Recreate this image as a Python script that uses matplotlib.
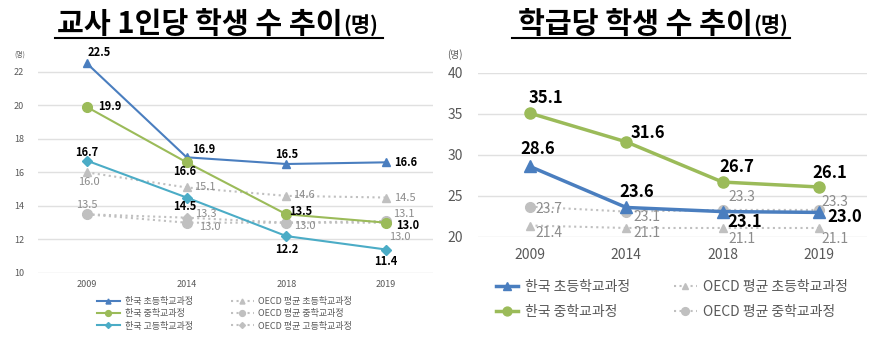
import matplotlib.pyplot as plt
from matplotlib.lines import Line2D

plt.rcParams['font.family'] = ['Noto Sans CJK KR', 'DejaVu Sans']

years = ['2009', '2014', '2018', '2019']

# 교사 1인당 학생 수
kr_elem_t = [22.5, 16.9, 16.5, 16.6]
kr_mid_t = [19.9, 16.6, 13.5, 13.0]
kr_high_t = [16.7, 14.5, 12.2, 11.4]
oecd_elem_t = [16.0, 15.1, 14.6, 14.5]
oecd_mid_t = [13.5, 13.0, 13.0, 13.1]
oecd_high_t = [13.5, 13.3, 13.0, 13.0]

# 학급당 학생 수
kr_elem_c = [28.6, 23.6, 23.1, 23.0]
kr_mid_c = [35.1, 31.6, 26.7, 26.1]
oecd_elem_c = [21.4, 21.1, 21.1, 21.1]
oecd_mid_c = [23.7, 23.1, 23.3, 23.3]

BLUE = '#4a7ebf'
GREEN = '#9bbb59'
CYAN = '#4bacc6'
GRAY = '#c0c0c0'
LGRAY = '#8c8c8c'

W, H = 881, 339
fig = plt.figure(figsize=(W / 100, H / 100), dpi=100)


def box(l, r, t, b):
    return [l / W, 1 - b / H, (r - l) / W, (b - t) / H]


def lab(ax, x, y, txt, dx, dy, ha='center', va='center', bold=True, color='black', size=8):
    ax.annotate(txt, (x, y), xytext=(dx * 0.72, dy * 0.72), textcoords='offset points',
                ha=ha, va=va, fontsize=size, fontweight='bold' if bold else 'normal',
                color=color, annotation_clip=False)


def style(ax, tsize, ypad, xpad):
    for s in ax.spines.values():
        s.set_visible(False)
    ax.tick_params(length=0, labelsize=tsize, colors='#595959', pad=0)
    ax.tick_params(axis='y', pad=ypad)
    ax.tick_params(axis='x', pad=xpad)
    ax.grid(axis='y', color='#e0e0e0', lw=1)
    ax.set_axisbelow(True)


x = range(len(years))

# ---------- left chart ----------
ax1 = fig.add_axes(box(38, 433, 55, 273))
ax1.plot(x, oecd_elem_t, color=GRAY, marker='^', ms=6, lw=1.5, ls=':', label='OECD 평균 초등학교과정')
ax1.plot(x, oecd_mid_t, color=GRAY, marker='o', ms=7, lw=1.5, ls=':', label='OECD 평균 중학교과정')
ax1.plot(x, oecd_high_t, color=GRAY, marker='D', ms=5, lw=1.5, ls=':', label='OECD 평균 고등학교과정')
ax1.plot(x, kr_elem_t, color=BLUE, marker='^', ms=6, lw=1.5, label='한국 초등학교과정')
ax1.plot(x, kr_mid_t, color=GREEN, marker='o', ms=7, lw=1.5, label='한국 중학교과정')
ax1.plot(x, kr_high_t, color=CYAN, marker='D', ms=5, lw=1.5, label='한국 고등학교과정')
ax1.set_xlim(-0.49, 3.47)
ax1.set_ylim(10, 23)
ax1.set_yticks(range(10, 23, 2))
ax1.set_xticks(list(x))
ax1.set_xticklabels(years)
style(ax1, 6.5, 10, 5)

v = kr_elem_t
lab(ax1, 0, v[0], f'{v[0]:.1f}', 12, 11)
lab(ax1, 1, v[1], f'{v[1]:.1f}', 17, 8)
lab(ax1, 2, v[2], f'{v[2]:.1f}', 0, 10)
lab(ax1, 3, v[3], f'{v[3]:.1f}', 8, 0, ha='left')
v = kr_mid_t
lab(ax1, 0, v[0], f'{v[0]:.1f}', 11, 0, ha='left')
lab(ax1, 1, v[1], f'{v[1]:.1f}', -2, -9)
lab(ax1, 2, v[2], f'{v[2]:.1f}', 3, 3, ha='left')
lab(ax1, 3, v[3], f'{v[3]:.1f}', 10, -3, ha='left')
v = kr_high_t
lab(ax1, 0, v[0], f'{v[0]:.1f}', 0, 8)
lab(ax1, 1, v[1], f'{v[1]:.1f}', -2, -9)
lab(ax1, 2, v[2], f'{v[2]:.1f}', 0, -13)
lab(ax1, 3, v[3], f'{v[3]:.1f}', 0, -12)
v = oecd_elem_t
lab(ax1, 0, v[0], f'{v[0]:.1f}', 2, -10, bold=False, color=LGRAY)
lab(ax1, 1, v[1], f'{v[1]:.1f}', 7, 0, ha='left', bold=False, color=LGRAY)
lab(ax1, 2, v[2], f'{v[2]:.1f}', 7, 1, ha='left', bold=False, color=LGRAY)
lab(ax1, 3, v[3], f'{v[3]:.1f}', 8, 0, ha='left', bold=False, color=LGRAY)
v = oecd_mid_t
lab(ax1, 0, v[0], f'{v[0]:.1f}', 0, 9, bold=False, color=LGRAY)
lab(ax1, 1, v[1], f'{v[1]:.1f}', 12, -4, ha='left', bold=False, color=LGRAY)
lab(ax1, 2, v[2], f'{v[2]:.1f}', 8, -3, ha='left', bold=False, color=LGRAY)
lab(ax1, 3, v[3], f'{v[3]:.1f}', 7, 7, ha='left', bold=False, color=LGRAY)
v = oecd_high_t
lab(ax1, 1, v[1], f'{v[1]:.1f}', 8, 4, ha='left', bold=False, color=LGRAY)
lab(ax1, 3, v[3], f'{v[3]:.1f}', 3, -14, ha='left', bold=False, color=LGRAY)

fig.text(20 / W, 1 - 55 / H, '(명)', fontsize=5, color='#595959', ha='center', va='center')
h, l = ax1.get_legend_handles_labels()
order = [3, 4, 5, 0, 1, 2]
leg1 = ax1.legend([h[i] for i in order], [l[i] for i in order],
                  loc='upper left', bbox_to_anchor=(55 / 395, -0.095), ncol=2, frameon=False,
                  fontsize=6.5, handlelength=2.6, handletextpad=0.5, markerscale=0.6,
                  columnspacing=4.2, labelspacing=0.35, borderaxespad=0)
for t in leg1.get_texts():
    t.set_color('#595959')

# ---------- right chart ----------
ax2 = fig.add_axes(box(478, 867, 73, 237))
ax2.plot(x, oecd_elem_c, color=GRAY, marker='^', ms=6, lw=1.5, ls=':', label='OECD 평균 초등학교과정')
ax2.plot(x, oecd_mid_c, color=GRAY, marker='o', ms=7, lw=1.5, ls=':', label='OECD 평균 중학교과정')
ax2.plot(x, kr_elem_c, color=BLUE, marker='^', ms=8, lw=2.5, label='한국 초등학교과정')
ax2.plot(x, kr_mid_c, color=GREEN, marker='o', ms=8, lw=2.5, label='한국 중학교과정')
ax2.set_xlim(-0.54, 3.5)
ax2.set_ylim(20, 40)
ax2.set_yticks(range(20, 41, 5))
ax2.set_xticks(list(x))
ax2.set_xticklabels(years)
style(ax2, 10, 11, 8)

v = kr_mid_c
lab(ax2, 0, v[0], f'{v[0]:.1f}', 16, 15, size=12)
lab(ax2, 1, v[1], f'{v[1]:.1f}', 22, 9, size=12)
lab(ax2, 2, v[2], f'{v[2]:.1f}', 14, 15, size=12)
lab(ax2, 3, v[3], f'{v[3]:.1f}', 11, 14, size=12)
v = kr_elem_c
lab(ax2, 0, v[0], f'{v[0]:.1f}', 8, 17, size=12)
lab(ax2, 1, v[1], f'{v[1]:.1f}', 10, 15, size=12)
lab(ax2, 2, v[2], f'{v[2]:.1f}', 22, -10, size=12)
lab(ax2, 3, v[3], f'{v[3]:.1f}', 26, -5, size=12)
v = oecd_mid_c
lab(ax2, 0, v[0], f'{v[0]:.1f}', 5, -2, ha='left', bold=False, color=LGRAY, size=10)
lab(ax2, 1, v[1], f'{v[1]:.1f}', 7, -5, ha='left', bold=False, color=LGRAY, size=10)
lab(ax2, 2, v[2], f'{v[2]:.1f}', 19, 13, bold=False, color=LGRAY, size=10)
lab(ax2, 3, v[3], f'{v[3]:.1f}', 16, 8, bold=False, color=LGRAY, size=10)
v = oecd_elem_c
lab(ax2, 0, v[0], f'{v[0]:.1f}', 5, -7, ha='left', bold=False, color=LGRAY, size=10)
lab(ax2, 1, v[1], f'{v[1]:.1f}', 7, -5, ha='left', bold=False, color=LGRAY, size=10)
lab(ax2, 2, v[2], f'{v[2]:.1f}', 19, -11, bold=False, color=LGRAY, size=10)
lab(ax2, 3, v[3], f'{v[3]:.1f}', 16, -11, bold=False, color=LGRAY, size=10)

fig.text(455 / W, 1 - 55 / H, '(명)', fontsize=7, color='#595959', ha='center', va='center')
h, l = ax2.get_legend_handles_labels()
order = [2, 3, 0, 1]
leg2 = ax2.legend([h[i] for i in order], [l[i] for i in order],
                  loc='upper left', bbox_to_anchor=(12 / 389, -0.23), ncol=2, frameon=False,
                  fontsize=10, handlelength=1.6, handletextpad=0.5, markerscale=0.8,
                  columnspacing=3.2, labelspacing=0.75, borderaxespad=0)
for t in leg2.get_texts():
    t.set_color('#595959')

# ---------- titles ----------
fig.text(343 / W, 1 - 33 / H, '교사 1인당 학생 수 추이', fontsize=21, fontweight='bold',
         ha='right', va='baseline')
fig.text(343 / W, 1 - 33 / H, '(명)', fontsize=15, fontweight='bold', ha='left', va='baseline')
fig.add_artist(Line2D([55 / W, 383 / W], [1 - 38 / H, 1 - 38 / H], color='black', lw=1.5))

fig.text(753 / W, 1 - 33 / H, '학급당 학생 수 추이', fontsize=21, fontweight='bold',
         ha='right', va='baseline')
fig.text(753 / W, 1 - 33 / H, '(명)', fontsize=15, fontweight='bold', ha='left', va='baseline')
fig.add_artist(Line2D([512 / W, 790 / W], [1 - 38 / H, 1 - 38 / H], color='black', lw=1.5))

fig.savefig('out.png', dpi=100)
